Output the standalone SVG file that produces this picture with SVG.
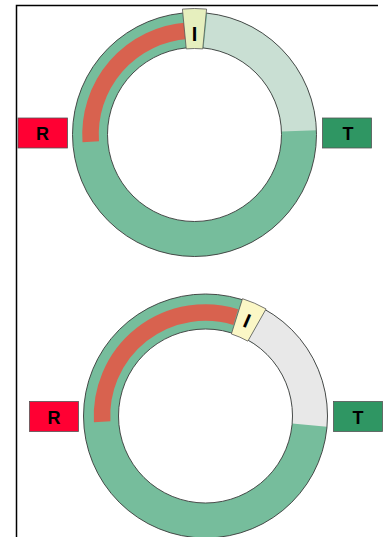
<svg xmlns="http://www.w3.org/2000/svg" width="386" height="537" viewBox="0 0 386 537">
<style>
.ring{fill:none;stroke:#76bd9c;stroke-width:35}
.light{fill:none;stroke:#c9dfd3;stroke-width:35}
.gray{fill:none;stroke:#e8e8e8;stroke-width:35}
.red{fill:none;stroke:#d8624f;stroke-width:16.5}
.edge{fill:none;stroke:#3a3a3a;stroke-width:0.9}
.lbl{font-family:"Liberation Sans",Arial,sans-serif;font-weight:bold;font-size:18px;fill:#000;text-anchor:middle}
.ilbl{font-size:20px}
.box{stroke:#555;stroke-width:0.8}
</style>
<rect x="0" y="0" width="386" height="537" fill="#fff"/>
<g id="frame">
<path d="M16.5,537 V5.5 H378" fill="none" stroke="#000" stroke-width="1.5"/>
</g>
<g id="connectors"></g>
<g id="ring-top">
<circle cx="194.5" cy="134.5" r="104.5" class="ring"/>
<path class="light" d="M205.42,30.57 A104.5,104.5 0 0 1 298.94,130.85"/>
<path class="red" d="M90.75,141.76 A104,104 0 0 1 187.24,30.75"/>
<circle cx="194.5" cy="134.5" r="122" class="edge"/>
<circle cx="194.5" cy="134.5" r="87" class="edge"/>
</g>
<g id="I-top">
<path d="M182.42,9.08 A126,126 0 0 1 206.58,9.08 L202.74,48.9 A86,86 0 0 0 186.26,48.9 Z" fill="#e6efbe" stroke="#555" stroke-width="0.8"/>
<text class="lbl ilbl" x="194.5" y="40.5">I</text>
</g>
<g id="R-top">
<rect class="box" x="18" y="118" width="49.5" height="30" fill="#ff0033"/>
<text class="lbl" x="42.5" y="140">R</text>
</g>
<g id="T-top">
<rect class="box" x="322.5" y="118" width="49" height="30" fill="#2f9663"/>
<text class="lbl" x="348" y="140">T</text>
</g>
<g id="ring-bottom">
<circle cx="205.5" cy="416" r="104.5" class="ring"/>
<path class="gray" d="M256.96,325.05 A104.5,104.5 0 0 1 309.6,425.11"/>
<path class="red" d="M102.16,421.78 A103.5,103.5 0 0 1 235.76,317.02"/>
<circle cx="205.5" cy="416" r="122" class="edge"/>
<circle cx="205.5" cy="416" r="87" class="edge"/>
</g>
<g id="I-bottom">
<path d="M242.49,298.69 A123,123 0 0 1 266.07,308.95 L247.85,341.15 A86,86 0 0 0 231.36,333.98 Z" fill="#fbf7c6" stroke="#555" stroke-width="0.8"/>
<text class="lbl ilbl" x="0" y="7" transform="translate(247,320.6) rotate(23.5)">I</text>
</g>
<g id="R-bottom">
<rect class="box" x="29.5" y="401.5" width="49" height="30" fill="#ff0033"/>
<text class="lbl" x="54" y="423.5">R</text>
</g>
<g id="T-bottom">
<rect class="box" x="333.5" y="401.5" width="49" height="30" fill="#2f9663"/>
<text class="lbl" x="358" y="423.5">T</text>
</g>
</svg>
